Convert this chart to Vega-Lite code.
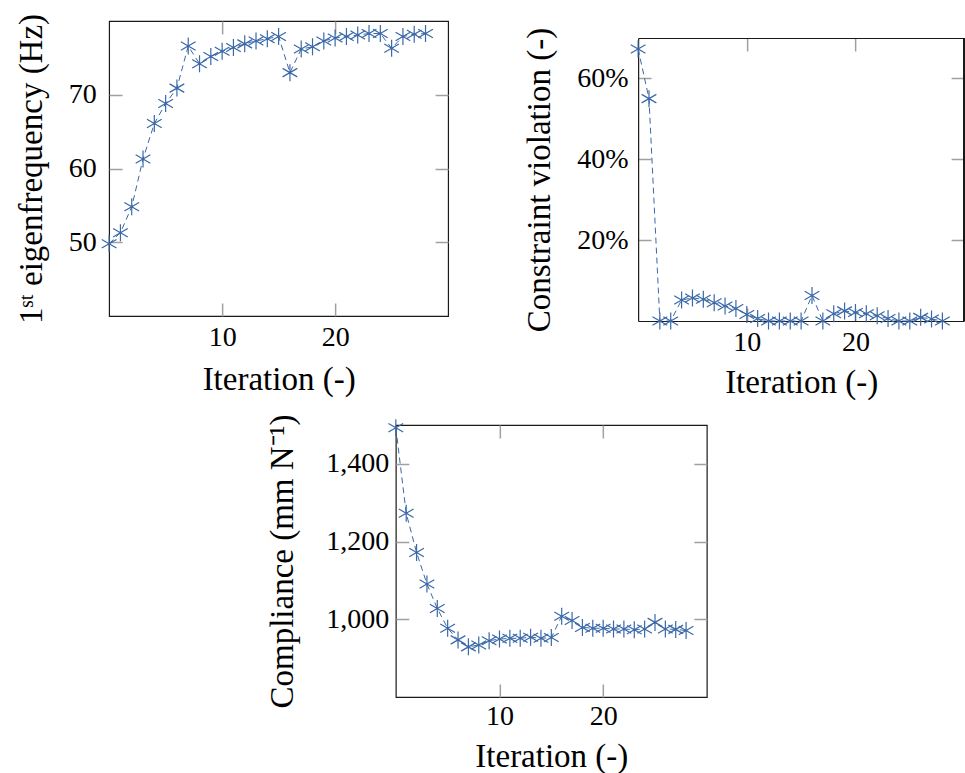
{
  "$schema": "https://vega.github.io/schema/vega-lite/v6.json",
  "padding": {"left": 14, "top": 12, "right": 0, "bottom": 0},
  "config": {
    "view": {"stroke": "#1a1a1a", "strokeWidth": 1.2},
    "font": "Liberation Serif",
    "axis": {
      "labelFont": "Liberation Serif",
      "titleFont": "Liberation Serif",
      "labelFontSize": 28,
      "titleFontSize": 33,
      "titleFontWeight": "normal",
      "labelColor": "black",
      "titleColor": "black",
      "domain": false,
      "grid": false,
      "tickColor": "#a0a0a0",
      "tickWidth": 1.5,
      "tickSize": -13
    }
  },
  "datasets": {
    "eigen": [
      {"iteration": 0, "value": 49.8}, {"iteration": 1, "value": 51.3}, {"iteration": 2, "value": 54.8},
      {"iteration": 3, "value": 61.3}, {"iteration": 4, "value": 66.1}, {"iteration": 5, "value": 68.8},
      {"iteration": 6, "value": 70.9}, {"iteration": 7, "value": 76.6}, {"iteration": 8, "value": 74.2},
      {"iteration": 9, "value": 75.2}, {"iteration": 10, "value": 75.9}, {"iteration": 11, "value": 76.4},
      {"iteration": 12, "value": 76.9}, {"iteration": 13, "value": 77.3}, {"iteration": 14, "value": 77.6},
      {"iteration": 15, "value": 77.9}, {"iteration": 16, "value": 73.0}, {"iteration": 17, "value": 76.2},
      {"iteration": 18, "value": 76.5}, {"iteration": 19, "value": 77.3}, {"iteration": 20, "value": 77.7},
      {"iteration": 21, "value": 77.9}, {"iteration": 22, "value": 78.1}, {"iteration": 23, "value": 78.3},
      {"iteration": 24, "value": 78.3}, {"iteration": 25, "value": 76.3}, {"iteration": 26, "value": 77.9},
      {"iteration": 27, "value": 78.2}, {"iteration": 28, "value": 78.3}
    ],
    "violation": [
      {"iteration": 0, "value": 0.673}, {"iteration": 1, "value": 0.55}, {"iteration": 2, "value": 0.0},
      {"iteration": 3, "value": 0.0}, {"iteration": 4, "value": 0.052}, {"iteration": 5, "value": 0.057},
      {"iteration": 6, "value": 0.054}, {"iteration": 7, "value": 0.045}, {"iteration": 8, "value": 0.037},
      {"iteration": 9, "value": 0.031}, {"iteration": 10, "value": 0.016}, {"iteration": 11, "value": 0.006},
      {"iteration": 12, "value": 0.0}, {"iteration": 13, "value": 0.0}, {"iteration": 14, "value": 0.0},
      {"iteration": 15, "value": 0.0}, {"iteration": 16, "value": 0.063}, {"iteration": 17, "value": 0.0},
      {"iteration": 18, "value": 0.018}, {"iteration": 19, "value": 0.025}, {"iteration": 20, "value": 0.021},
      {"iteration": 21, "value": 0.018}, {"iteration": 22, "value": 0.013}, {"iteration": 23, "value": 0.006},
      {"iteration": 24, "value": 0.0}, {"iteration": 25, "value": 0.0}, {"iteration": 26, "value": 0.009},
      {"iteration": 27, "value": 0.005}, {"iteration": 28, "value": 0.0}
    ],
    "compliance": [
      {"iteration": 0, "value": 1493}, {"iteration": 1, "value": 1273}, {"iteration": 2, "value": 1172},
      {"iteration": 3, "value": 1091}, {"iteration": 4, "value": 1028}, {"iteration": 5, "value": 977},
      {"iteration": 6, "value": 947}, {"iteration": 7, "value": 929}, {"iteration": 8, "value": 934},
      {"iteration": 9, "value": 945}, {"iteration": 10, "value": 949}, {"iteration": 11, "value": 951},
      {"iteration": 12, "value": 951}, {"iteration": 13, "value": 954}, {"iteration": 14, "value": 951},
      {"iteration": 15, "value": 953}, {"iteration": 16, "value": 1008}, {"iteration": 17, "value": 997},
      {"iteration": 18, "value": 979}, {"iteration": 19, "value": 977}, {"iteration": 20, "value": 977},
      {"iteration": 21, "value": 975}, {"iteration": 22, "value": 975}, {"iteration": 23, "value": 973},
      {"iteration": 24, "value": 975}, {"iteration": 25, "value": 992}, {"iteration": 26, "value": 975},
      {"iteration": 27, "value": 974}, {"iteration": 28, "value": 971}
    ]
  },
  "center": true,
  "spacing": 14,
  "vconcat": [
    {
      "spacing": 73,
      "hconcat": [
        {
          "width": 339,
          "height": 295,
          "data": {"name": "eigen"},
          "layer": [
            {
              "mark": {"type": "line", "color": "#3a68a8", "strokeWidth": 1, "strokeDash": [6, 4]},
              "encoding": {
                "x": {"field": "iteration", "type": "quantitative", "scale": {"domain": [0, 30], "nice": false},
                      "axis": {"orient": "bottom", "values": [10, 20], "title": "Iteration (-)", "labelPadding": 20, "titlePadding": 12}},
                "y": {"field": "value", "type": "quantitative", "scale": {"domain": [40, 80], "nice": false, "zero": false},
                      "axis": {"orient": "left", "values": [50, 60, 70], "title": "1ˢᵗ eigenfrequency (Hz)", "labelPadding": 26, "titlePadding": 20}}
              }
            },
            {
              "mark": {"type": "point", "shape": "M0,-1L0,1M-0.866,-0.5L0.866,0.5M-0.866,0.5L0.866,-0.5", "size": 289, "filled": false, "color": "#3a68a8", "strokeWidth": 1.2, "opacity": 1},
              "encoding": {
                "x": {"field": "iteration", "type": "quantitative", "scale": {"domain": [0, 30], "nice": false},
                      "axis": {"orient": "top", "values": [10, 20], "labels": false, "title": null}},
                "y": {"field": "value", "type": "quantitative", "scale": {"domain": [40, 80], "nice": false, "zero": false},
                      "axis": {"orient": "right", "values": [50, 60, 70], "labels": false, "title": null}}
              }
            }
          ],
          "resolve": {"axis": {"x": "independent", "y": "independent"}}
        },
        {
          "width": 326,
          "height": 300,
          "view": {"stroke": null},
          "data": {"name": "violation"},
          "layer": [
            {
              "mark": {"type": "line", "color": "#3a68a8", "strokeWidth": 1, "strokeDash": [6, 4]},
              "encoding": {
                "x": {"field": "iteration", "type": "quantitative", "scale": {"domain": [0, 30], "nice": false},
                      "axis": {"orient": "bottom", "values": [10, 20], "title": "Iteration (-)", "labelPadding": 20, "titlePadding": 10,
                               "domain": true, "domainColor": "#1a1a1a", "domainWidth": 1.2}},
                "y": {"field": "value", "type": "quantitative", "scale": {"domain": [0, 0.7], "range": [300, 17], "nice": false, "zero": false},
                      "axis": {"orient": "left", "values": [0.2, 0.4, 0.6], "format": ".0%", "title": "Constraint violation (-)", "labelPadding": 23, "titlePadding": 20,
                               "domain": true, "domainColor": "#1a1a1a", "domainWidth": 1.2}}
              }
            },
            {
              "mark": {"type": "point", "shape": "M0,-1L0,1M-0.866,-0.5L0.866,0.5M-0.866,0.5L0.866,-0.5", "size": 289, "filled": false, "color": "#3a68a8", "strokeWidth": 1.2, "opacity": 1},
              "encoding": {
                "x": {"field": "iteration", "type": "quantitative", "scale": {"domain": [0, 30], "nice": false},
                      "axis": {"orient": "top", "offset": -17, "values": [10, 20], "labels": false, "title": null,
                               "domain": true, "domainColor": "#1a1a1a", "domainWidth": 1.2}},
                "y": {"field": "value", "type": "quantitative", "scale": {"domain": [0, 0.7], "range": [300, 17], "nice": false, "zero": false},
                      "axis": {"orient": "right", "offset": 30, "tickSize": -43, "values": [0.2, 0.4, 0.6], "labels": false, "title": null}}
              }
            },
            {
              "mark": {"type": "rule", "color": "#1a1a1a", "strokeWidth": 1.2},
              "encoding": {
                "x": {"datum": 30, "type": "quantitative", "axis": null},
                "y": {"datum": 0, "type": "quantitative", "axis": null},
                "y2": {"datum": 0.7}
              }
            }
          ],
          "resolve": {"axis": {"x": "independent", "y": "independent"}}
        }
      ]
    },
    {
      "width": 311,
      "height": 272,
      "data": {"name": "compliance"},
      "layer": [
        {
          "mark": {"type": "line", "color": "#3a68a8", "strokeWidth": 1, "strokeDash": [6, 4]},
          "encoding": {
            "x": {"field": "iteration", "type": "quantitative", "scale": {"domain": [0, 30], "nice": false},
                  "axis": {"orient": "bottom", "values": [10, 20], "title": "Iteration (-)", "labelPadding": 18, "titlePadding": 10}},
            "y": {"field": "value", "type": "quantitative", "scale": {"domain": [800, 1500], "nice": false, "zero": false},
                  "axis": {"orient": "left", "values": [1000, 1200, 1400], "format": ",.0f", "title": "Compliance (mm N⁻¹)", "labelPadding": 20, "titlePadding": 26}}
          }
        },
        {
          "mark": {"type": "point", "shape": "M0,-1L0,1M-0.866,-0.5L0.866,0.5M-0.866,0.5L0.866,-0.5", "size": 289, "filled": false, "color": "#3a68a8", "strokeWidth": 1.2, "opacity": 1},
          "encoding": {
            "x": {"field": "iteration", "type": "quantitative", "scale": {"domain": [0, 30], "nice": false},
                  "axis": {"orient": "top", "values": [10, 20], "labels": false, "title": null}},
            "y": {"field": "value", "type": "quantitative", "scale": {"domain": [800, 1500], "nice": false, "zero": false},
                  "axis": {"orient": "right", "values": [1000, 1200, 1400], "labels": false, "title": null}}
          }
        }
      ],
      "resolve": {"axis": {"x": "independent", "y": "independent"}}
    }
  ]
}
